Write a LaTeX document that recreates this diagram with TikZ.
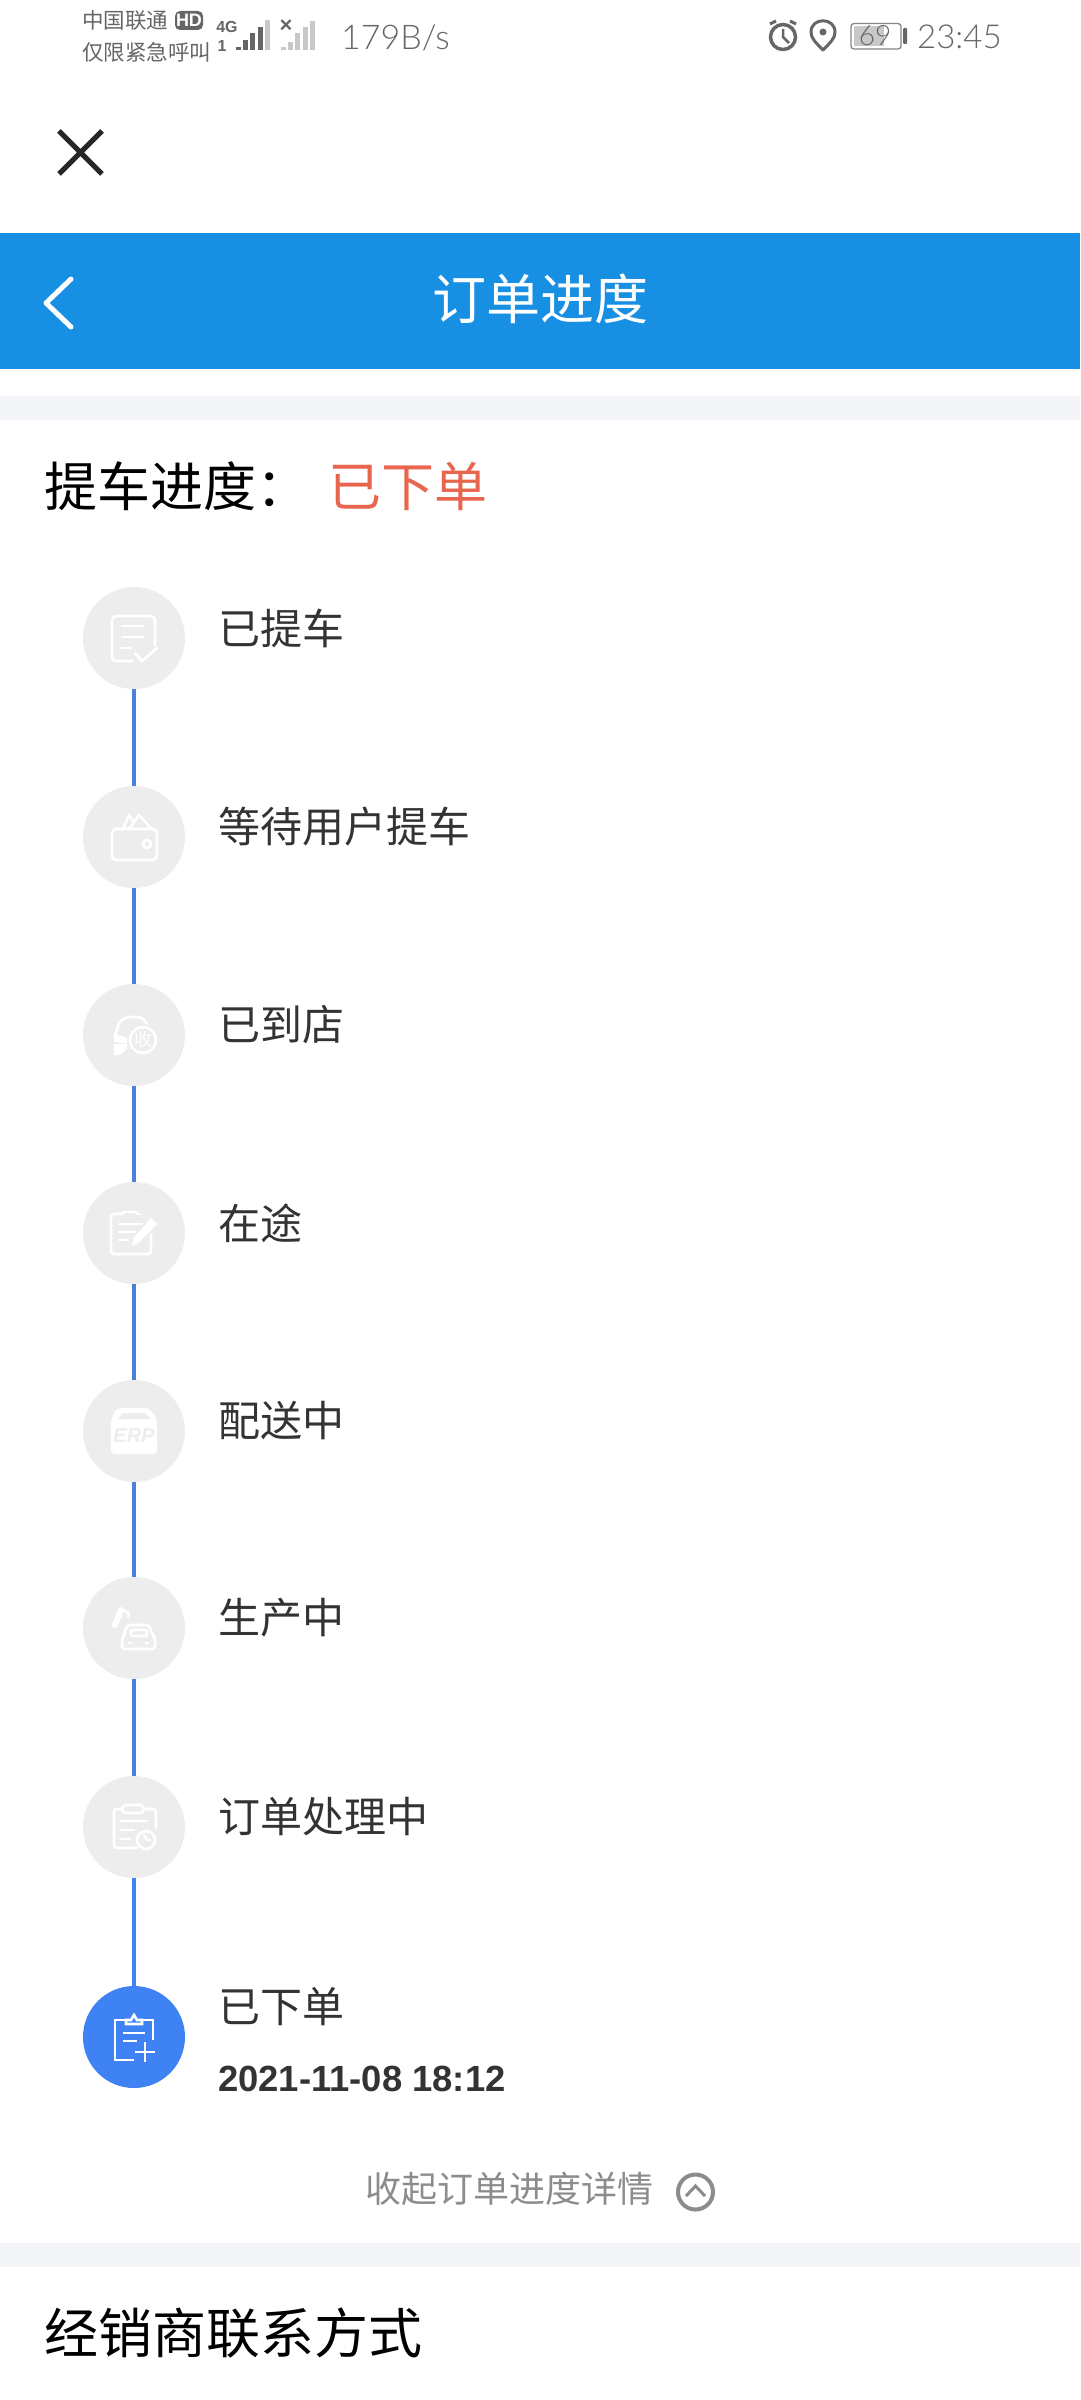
\documentclass[tikz,border=0pt]{standalone}
\usepackage{fontspec}
\setmainfont{Noto Sans CJK SC}
\newfontfamily\thinfont{Lato Light}
\newfontfamily\datefont{Liberation Sans}
\usetikzlibrary{positioning}
\definecolor{headblue}{HTML}{178FE3}
\definecolor{bandgrey}{HTML}{F3F5F8}
\definecolor{dotgrey}{HTML}{EDEDED}
\definecolor{lineblue}{HTML}{4A80DC}
\definecolor{nowblue}{HTML}{3F82F4}
\definecolor{statusgrey}{HTML}{666666}
\definecolor{barlight}{HTML}{C8C8C8}
\definecolor{textdark}{HTML}{333333}
\definecolor{orangered}{HTML}{E8664E}
\newcommand{\pxfont}[1]{\fontsize{#1}{#1}\selectfont}
\tikzset{
  stepdot/.style={circle, fill=dotgrey, minimum size=102pt, inner sep=0pt},
  steptext/.style={anchor=west, inner sep=0pt, text=textdark, font=\pxfont{42}},
  stepline/.style={draw=lineblue, line width=3.5pt, xshift=1pt},
  iconline/.style={draw=white, line width=2.6pt, line join=round, line cap=round},
  statusbar/.style={fill=statusgrey, line width=0pt},
  barsoft/.style={fill=barlight, line width=0pt}
}
\begin{document}
\begin{tikzpicture}[x=1pt, y=-1pt]
  \path [fill=white, use as bounding box] (0, 0) rectangle (1080, 2400);
  % status bar
  \node [anchor=west, inner sep=0pt, text=statusgrey, font=\pxfont{21.5}] (carrier) at (82, 20) {中国联通};
  \node [anchor=west, inner sep=0pt, text=statusgrey, font=\pxfont{21.5}] (limit) at (82, 52) {仅限紧急呼叫};
  \draw [fill=statusgrey, draw=none, rounded corners=5pt] (175, 11) rectangle (203, 30);
  \node [inner sep=0pt, text=white, font=\datefont\bfseries\pxfont{18}] (hd) at (189, 20.5) {HD};
  \node [inner sep=0pt, text=statusgrey, font=\datefont\bfseries\pxfont{16}] (fourg) at (227, 27) {4G};
  \node [inner sep=0pt, text=statusgrey, font=\datefont\bfseries\pxfont{16}] (simone) at (222, 46) {1};
  \foreach \x/\top in {236/47, 243/40, 250/33, 258/27} {
    \path [statusbar] (\x, \top) rectangle ++(4.5, 50-\top);
  }
  \path [barsoft] (265, 20) rectangle (269.5, 50);
  \node [inner sep=0pt, text=statusgrey, font=\datefont\bfseries\pxfont{22}] (nosim) at (286, 26) {×};
  \foreach \x/\top in {281/47, 288/42, 295/33, 303/27, 310/21} {
    \path [barsoft] (\x, \top) rectangle ++(4.5, 50-\top);
  }
  \node [anchor=west, inner sep=0pt, text=statusgrey, font=\thinfont\pxfont{34}] (speed) at (341, 38) {179B/s};
  \draw [statusgrey, line width=3.5pt] (783, 37) circle (12.5);
  \draw [statusgrey, line width=2.5pt] (783, 29) -- (783, 37) -- (789, 43);
  \draw [statusgrey, line width=3pt] (770, 24) -- (776, 21) (796, 24) -- (790, 21);
  \draw [statusgrey, line width=3pt, line join=round] (823, 50) .. controls (815, 42) and (811, 38) .. (811, 32) .. controls (811, 17) and (835, 17) .. (835, 32) .. controls (835, 38) and (831, 42) .. (823, 50) -- cycle;
  \fill [statusgrey] (823, 32) circle (3.5);
  \draw [draw=statusgrey!80, line width=1.3pt, rounded corners=3pt] (851, 23.5) rectangle (901, 49);
  \path [fill=barlight] (854, 26) rectangle (884, 46);
  \path [fill=statusgrey, rounded corners=1pt] (903, 28) rectangle (907, 44);
  \node [inner sep=0pt, text=statusgrey, font=\thinfont\pxfont{28}] (level) at (875, 36) {69};
  \node [anchor=west, inner sep=0pt, text=statusgrey, font=\thinfont\pxfont{33}] (clock) at (917, 37) {23:45};
  % close cross
  \draw [draw=black!85, line width=5pt] (59, 131) -- (102, 174) (102, 131) -- (59, 174);
  % title bar
  \path [fill=headblue] (0, 233) rectangle (1080, 369);
  \draw [white, line width=5pt, line cap=round, line join=round] (71, 279) -- (46, 303) -- (71, 327);
  \node [inner sep=0pt, text=white, font=\pxfont{54}] (title) at (540, 299) {订单进度};
  \path [fill=bandgrey] (0, 396) rectangle (1080, 420);
  \path [fill=bandgrey] (0, 2243) rectangle (1080, 2267);
  % progress heading
  \node [anchor=west, inner sep=0pt, text=black, font=\pxfont{53}] (progress) at (44, 486) {提车进度：};
  \node [anchor=west, inner sep=0pt, text=orangered, font=\pxfont{53}] (state) at (328, 486) {已下单};
  % steps
  \foreach \name/\ypos/\txt in {sa/638/已提车, sb/837/等待用户提车, sc/1035/已到店, sd/1233/在途,
      se/1431/配送中, sf/1628/生产中, sg/1827/订单处理中} {
    \node [stepdot] (\name) at (134, \ypos) {};
    \node [steptext, right=33pt of \name, yshift=10pt] (\name text) {\txt};
  }
  \node [stepdot, fill=nowblue] (sh) at (134, 2037) {};
  \node [steptext, right=33pt of sh, yshift=30pt] (sh text) {已下单};
  \node [anchor=west, inner sep=0pt, text=textdark, font=\datefont\bfseries\pxfont{36.4}] (stamp) at (218, 2079) {2021-11-08 18:12};
  \foreach \from/\to in {sa/sb, sb/sc, sc/sd, sd/se, se/sf, sf/sg} {
    \draw [stepline] (\from) -- (\to);
  }
  \draw [stepline, draw=nowblue] (sg) -- (sh);
  % icon of each step
  \begin{scope}[shift={(sa.center)}, iconline]
    \draw [rounded corners=4pt] (21, 7) -- (21, -22) -- (-22, -22) -- (-22, 23) -- (-1, 23);
    \draw (-12, -12) -- (10, -12) (-12, -1) -- (10, -1) (-12, 10) -- (-3, 10);
    \draw (1, 15) -- (8, 23) -- (23, 10);
  \end{scope}
  \begin{scope}[shift={(sb.center)}, iconline]
    \draw [rounded corners=4pt] (-22, -8) rectangle (23, 23);
    \draw (13, 7) circle (4);
    \draw (-11, -8) -- (-5, -22) -- (0, -15) (-4, -9) -- (5, -22) -- (18, -8);
  \end{scope}
  \begin{scope}[shift={(sc.center)}, iconline]
    \draw [rounded corners=4pt] (-19, 2) -- (-15, -13) -- (-8, -18) -- (8, -18) -- (14, -10);
    \path [fill=white] (-20, -1) -- (-3, 4) -- (-3, 9) -- (-20, 7) -- cycle;
    \path [fill=white] (-20, 9) -- (-7, 9) -- (-7, 14) -- (-14, 20) -- (-20, 20) -- cycle;
    \path [fill=dotgrey] (9, 5) circle (16);
    \draw (9, 5) circle (13);
    \node [inner sep=0pt, text=white, font=\pxfont{18}] (sc mark) at (9, 5) {收};
  \end{scope}
  \begin{scope}[shift={(sd.center)}, iconline]
    \draw [rounded corners=3pt] (-11, -19) -- (-23, -19) -- (-23, 21) -- (17, 21) -- (17, 0);
    \draw (-11, -21) -- (3, -21) (3, -19) -- (6, -19);
    \draw (-15, -9) -- (8, -9) (-15, -1) -- (3, -1) (-15, 7) -- (-6, 7);
    \draw [draw=dotgrey, fill=white, line width=2pt, line join=miter] (17, -17) -- (25, -9) -- (5, 11) -- (-4, 15) -- (-1, 4) -- cycle;
  \end{scope}
  \begin{scope}[shift={(se.center)}]
    \path [fill=white, rounded corners=4pt] (-17, -23) -- (15, -23) -- (23, -12) -- (23, 23) -- (-23, 23) -- (-23, -12) -- cycle;
    \path [fill=dotgrey] (-11, -18) -- (11, -18) -- (17, -12) -- (-16, -12) -- cycle;
    \node [inner sep=0pt, text=dotgrey, font=\datefont\bfseries\itshape\pxfont{20}] (se mark) at (0, 5) {ERP};
  \end{scope}
  \begin{scope}[shift={(sf.center)}, iconline]
    \draw [line width=6pt] (-19, -3) -- (-13, -18);
    \draw (-13, -19) -- (-5, -15) -- (-6, -11);
    \draw [rounded corners=3pt] (-7, -3) -- (15, -3) -- (19, 8) -- (21, 10) -- (21, 21) -- (-12, 21) -- (-12, 10) -- (-10, 8) -- cycle;
    \draw [rounded corners=1pt] (-3, 2) rectangle (13, 8);
    \draw (-5, 15) -- (-3, 15) (12, 15) -- (14, 15);
  \end{scope}
  \begin{scope}[shift={(sg.center)}, iconline]
    \draw [rounded corners=3pt] (3, 21) -- (-20, 21) -- (-20, -18) -- (22, -18) -- (22, 1);
    \draw [rounded corners=4pt, fill=dotgrey] (-12, -22) rectangle (10, -14);
    \draw (-14, -6) -- (13, -6) (-14, 3) -- (0, 3) (-14, 12) -- (-4, 12);
    \draw (12, 13) circle (9);
    \draw (10, 8) -- (13, 13) -- (16, 13);
  \end{scope}
  \begin{scope}[shift={(sh.center)}, iconline, line cap=butt, line join=miter]
    \draw (19, 3) -- (19, -17) -- (8, -17) (-8, -17) -- (-19, -17) -- (-19, 23) -- (0, 23);
    \draw (-8, -17) -- (-8, -13) -- (8, -13) -- (8, -17) -- (3, -17) -- (0, -22) -- (-3, -17) -- cycle;
    \draw (-11, -4) -- (11, -4) (-11, 4) -- (3, 4);
    \draw (1, 15) -- (21, 15) (11, 5) -- (11, 25);
  \end{scope}
  % collapse link
  \node [anchor=west, inner sep=0pt, text=black!45, font=\pxfont{36}] (collapse) at (365, 2189) {收起订单进度详情};
  \draw [black!45, line width=4pt] (695.5, 2192) circle (17.5);
  \draw [black!45, line width=3pt] (686, 2196) -- (695.5, 2186) -- (705, 2196);
  % dealer heading
  \node [anchor=west, inner sep=0pt, text=black, font=\pxfont{54}] (dealer) at (44, 2333) {经销商联系方式};
\end{tikzpicture}
\end{document}
